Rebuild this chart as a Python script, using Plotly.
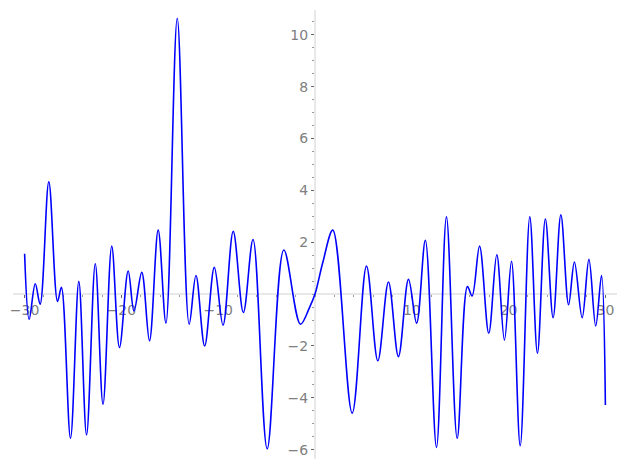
import plotly.graph_objects as go

# local extrema
x_vals = [-30.0, -29.53, -28.9, -28.4, -27.5, -26.6, -26.2, -25.26, -24.4, -23.6,
          -22.7, -21.9, -21.0, -20.2, -19.3, -18.7, -17.9, -17.1, -16.2, -15.4,
          -14.23, -13.0, -12.3, -11.4, -10.4, -9.5, -8.45, -7.4, -6.4, -4.94,
          -3.22, -1.5, -0.57, 0.0, 0.8, 1.84, 3.84, 5.32, 6.49, 7.59,
          8.62, 9.66, 10.5, 11.4, 12.55, 13.58, 14.69, 15.75, 16.23, 17.0,
          17.95, 18.78, 19.57, 20.3, 21.2, 22.19, 22.98, 23.8, 24.6, 25.4,
          26.2, 26.8, 27.6, 28.3, 29.0, 29.6, 30.0]
y_vals = [1.56, -0.97, 0.40, -0.39, 4.33, -0.28, 0.26, -5.56, 0.49, -5.43,
          1.17, -4.25, 1.85, -2.06, 0.89, -0.65, 0.84, -1.80, 2.47, -1.12,
          10.64, -1.16, 0.72, -2.0, 1.03, -1.2, 2.42, -0.71, 2.11, -5.97,
          1.70, -1.16, -0.52, 0.0, 1.21, 2.47, -4.59, 1.08, -2.57, 0.47,
          -2.41, 0.57, -1.12, 2.08, -5.91, 2.98, -5.56, 0.29, -0.07, 1.85,
          -1.51, 1.52, -1.78, 1.27, -5.85, 2.98, -2.28, 2.9, -0.91, 3.06,
          -0.41, 1.24, -0.91, 1.34, -1.23, 0.72, -4.28]

x_ticks = [-30, -20, -10, 10, 20, 30]
y_ticks = [-6, -4, -2, 2, 4, 6, 8, 10]

x_range = [-31.2, 31.2]
y_range = [-6.36, 10.96]

fig = go.Figure()
fig.add_trace(go.Scatter(x=x_vals, y=y_vals, mode='lines',
                         line=dict(color='#0000ff', width=1.6, shape='spline', smoothing=1.0),
                         hoverinfo='skip'))

axis_common = dict(
    showgrid=False, zeroline=False, showline=True, linecolor='#e8e8e8', linewidth=2,
    ticks='outside', ticklen=3, tickwidth=1, tickcolor='#666666',
    tickfont=dict(family='DejaVu Sans', size=14, color='#808080'),
    layer='below traces', anchor='free',
)

# page body has an 8px margin, so the figure is shrunk and margins shifted
fig.update_layout(
    showlegend=False, width=619, height=461,
    margin=dict(l=5, r=10, t=2, b=10),
    plot_bgcolor='white', paper_bgcolor='white',
    xaxis=dict(axis_common, range=x_range, tickvals=x_ticks,
               position=(0 - y_range[0]) / (y_range[1] - y_range[0]),
               minor=dict(ticks='outside', dtick=2, ticklen=2, tickcolor='#999999')),
    yaxis=dict(axis_common, range=y_range, tickvals=y_ticks,
               position=(0 - x_range[0]) / (x_range[1] - x_range[0]),
               minor=dict(ticks='outside', dtick=0.5, ticklen=2, tickcolor='#999999')),
)

fig.write_html("out.html")
